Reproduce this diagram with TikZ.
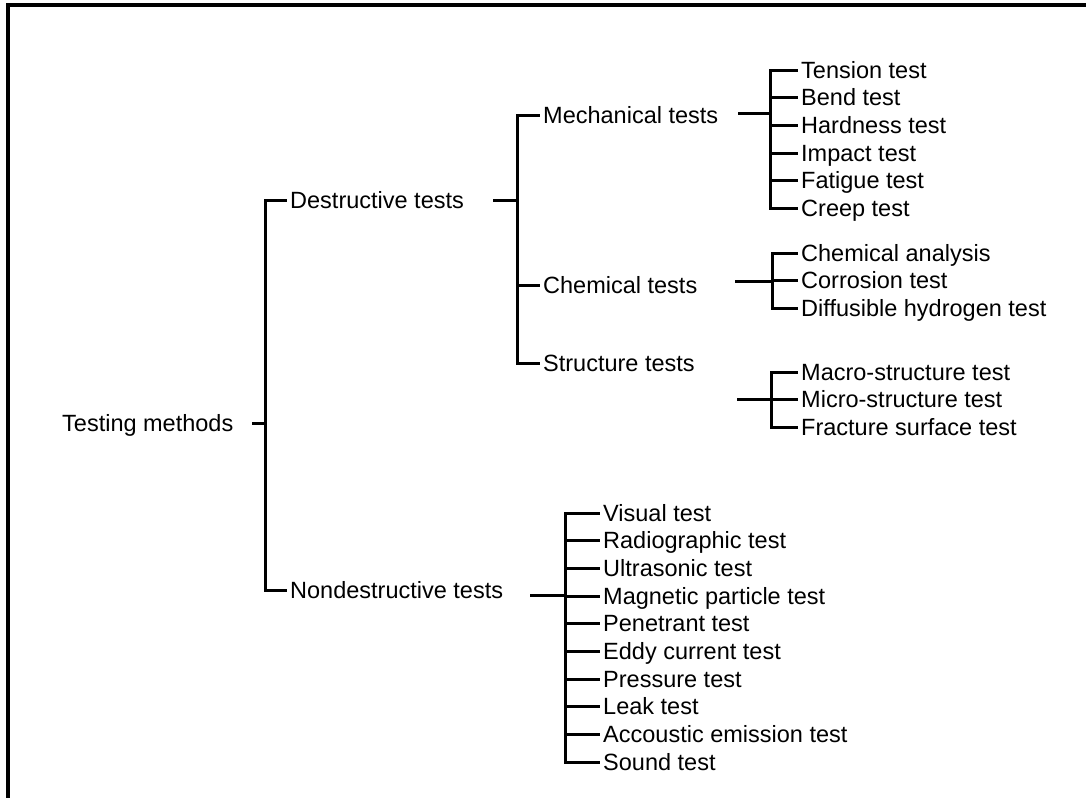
\documentclass[tikz,border=0pt]{standalone}
\usepackage{fontspec}
\setmainfont{Liberation Sans}
\usetikzlibrary{positioning}
\tikzset{
  category/.style={anchor=west,inner xsep=3pt,inner ysep=0pt,
    text height=16pt,text depth=0pt,font=\fontsize{23.5}{28}\selectfont},
  leaf/.style={category},
  branch/.style={line width=3pt,draw=black},
  frameline/.style={line width=3.4pt,draw=black}
}

\begin{document}
\begin{tikzpicture}[x=1pt,y=-1pt,node distance=11.3pt]
  \useasboundingbox (0,0) rectangle (1086,798);
  \draw[frameline] (1086,5) -- (8,5) -- (8,798);

  % main categories
  \node[category] (tm) at (59,423) {Testing methods};
  \node[category] (dt) at (287,200) {Destructive tests};
  \node[category] (nd) at (287,590) {Nondestructive tests};
  \node[category] (mech) at (540,115) {Mechanical tests};
  \node[category] (chem) at (540,285) {Chemical tests};
  \node[category] (struc) at (540,363) {Structure tests};

  % mechanical tests
  \node[leaf] (tension) at (798,70) {Tension test};
  \node[leaf,below=of tension.south west,anchor=north west] (bend) {Bend test};
  \node[leaf,below=of bend.south west,anchor=north west] (hard) {Hardness test};
  \node[leaf,below=of hard.south west,anchor=north west] (impact) {Impact test};
  \node[leaf,below=of impact.south west,anchor=north west] (fatigue) {Fatigue test};
  \node[leaf,below=of fatigue.south west,anchor=north west] (creep) {Creep test};

  % chemical tests
  \node[leaf] (analysis) at (798,253) {Chemical analysis};
  \node[leaf,below=of analysis.south west,anchor=north west] (corrosion) {Corrosion test};
  \node[leaf,below=of corrosion.south west,anchor=north west] (hydrogen) {Diffusible hydrogen test};

  % structure tests
  \node[leaf] (macro) at (798,372) {Macro-structure test};
  \node[leaf,below=of macro.south west,anchor=north west] (micro) {Micro-structure test};
  \node[leaf,below=of micro.south west,anchor=north west] (fracture) {Fracture surface test};

  % nondestructive tests
  \node[leaf] (visual) at (600,513) {Visual test};
  \node[leaf,below=of visual.south west,anchor=north west] (radio) {Radiographic test};
  \node[leaf,below=of radio.south west,anchor=north west] (ultra) {Ultrasonic test};
  \node[leaf,below=of ultra.south west,anchor=north west] (magnetic) {Magnetic particle test};
  \node[leaf,below=of magnetic.south west,anchor=north west] (penetrant) {Penetrant test};
  \node[leaf,below=of penetrant.south west,anchor=north west] (eddy) {Eddy current test};
  \node[leaf,below=of eddy.south west,anchor=north west] (pressure) {Pressure test};
  \node[leaf,below=of pressure.south west,anchor=north west] (leak) {Leak test};
  \node[leaf,below=of leak.south west,anchor=north west] (acoustic) {Accoustic emission test};
  \node[leaf,below=of acoustic.south west,anchor=north west] (sound) {Sound test};

  % tick and bar points
  \coordinate (tmtick) at (252,423);
  \coordinate (tmbar) at (265,423);
  \coordinate (dttick) at (493,200);
  \coordinate (dtbar) at (517,200);
  \coordinate (mechtick) at (738,113);
  \coordinate (mechbar) at (770,113);
  \coordinate (chemtick) at (735,281);
  \coordinate (chembar) at (772,281);
  \coordinate (structick) at (737,399);
  \coordinate (strucbar) at (771,399);
  \coordinate (ndtick) at (530,595);
  \coordinate (ndbar) at (565,595);

  \draw[branch] (tmtick) -- (tmbar);
  \draw[branch] (tmbar) |- (dt.west);
  \draw[branch] (tmbar) |- (nd.west);

  \draw[branch] (dttick) -- (dtbar);
  \draw[branch] (dtbar) |- (mech.west);
  \draw[branch] (dtbar) |- (chem.west);
  \draw[branch] (dtbar) |- (struc.west);

  \draw[branch] (mechtick) -- (mechbar);
  \draw[branch] (mechbar) |- (tension.west);
  \draw[branch] (mechbar) |- (bend.west);
  \draw[branch] (mechbar) |- (hard.west);
  \draw[branch] (mechbar) |- (impact.west);
  \draw[branch] (mechbar) |- (fatigue.west);
  \draw[branch] (mechbar) |- (creep.west);

  \draw[branch] (chemtick) -- (chembar);
  \draw[branch] (chembar) |- (analysis.west);
  \draw[branch] (chembar) |- (corrosion.west);
  \draw[branch] (chembar) |- (hydrogen.west);

  \draw[branch] (structick) -- (strucbar);
  \draw[branch] (strucbar) |- (macro.west);
  \draw[branch] (strucbar) |- (micro.west);
  \draw[branch] (strucbar) |- (fracture.west);

  \draw[branch] (ndtick) -- (ndbar);
  \draw[branch] (ndbar) |- (visual.west);
  \draw[branch] (ndbar) |- (radio.west);
  \draw[branch] (ndbar) |- (ultra.west);
  \draw[branch] (ndbar) |- (magnetic.west);
  \draw[branch] (ndbar) |- (penetrant.west);
  \draw[branch] (ndbar) |- (eddy.west);
  \draw[branch] (ndbar) |- (pressure.west);
  \draw[branch] (ndbar) |- (leak.west);
  \draw[branch] (ndbar) |- (acoustic.west);
  \draw[branch] (ndbar) |- (sound.west);
\end{tikzpicture}
\end{document}
